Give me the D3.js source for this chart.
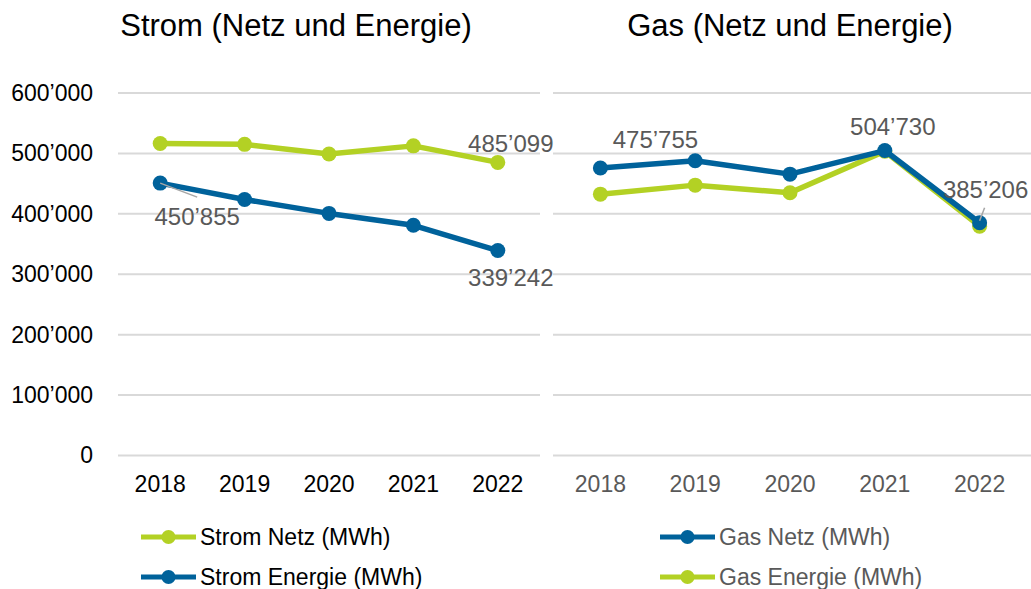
<!DOCTYPE html>
<html><head><meta charset="utf-8">
<script src="https://cdn.jsdelivr.net/npm/d3@7"></script>
<style>body{margin:0;background:#fff}svg{display:block;font-family:"Liberation Sans",Arial,sans-serif}</style>
</head><body><svg id="c" width="1031" height="589"></svg>
<script>
const years = ["2018","2019","2020","2021","2022"];
const stromNetz = [516500, 515000, 499000, 512500, 485099];
const stromEnergie = [450855, 423800, 400700, 381000, 339242];
const gasNetz = [475755, 487800, 465700, 504730, 385206];
const gasEnergie = [432600, 447500, 434800, 503500, 379600];
const yTicks = [0, 100000, 200000, 300000, 400000, 500000, 600000];
const titles = ["Strom (Netz und Energie)", "Gas (Netz und Energie)"];
const legendLabels = ["Strom Netz (MWh)", "Strom Energie (MWh)", "Gas Netz (MWh)", "Gas Energie (MWh)"];

const GREEN = "#b3d124", BLUE = "#00629b", GRID = "#d9d9d9", LABEL = "#595959";
const fmt = v => d3.format(",")(v).replace(/,/g, "\u2019");

const svg = d3.select("#c");
const y = d3.scaleLinear().domain([0, 600000]).range([455.5, 93]);

const panels = [
  {x: d3.scaleBand().domain(years).range([118, 540]), gridEnd: 540, title: titles[0], titleX: 296, tickColor: "#000",
   series: [{v: stromNetz, c: GREEN}, {v: stromEnergie, c: BLUE}]},
  {x: d3.scaleBand().domain(years).range([553, 1027]), gridEnd: 1031, title: titles[1], titleX: 790, tickColor: LABEL,
   series: [{v: gasEnergie, c: GREEN}, {v: gasNetz, c: BLUE}]}
];

// y axis labels (left panel only)
const yAxis = d3.axisLeft(y).tickValues(yTicks).tickFormat(fmt).tickSize(0).tickPadding(0);
const ya = svg.append("g").attr("transform", "translate(93,0)").call(yAxis);
ya.select(".domain").remove();
ya.selectAll("text").attr("font-size", 23).attr("fill", "#000").attr("font-family", "Liberation Sans, Arial, sans-serif");

panels.forEach((p, i) => {
  const g = svg.append("g");
  const xr = p.x.range();
  g.selectAll("line.grid").data(yTicks).join("line")
    .attr("x1", xr[0]).attr("x2", p.gridEnd)
    .attr("y1", d => y(d)).attr("y2", d => y(d))
    .attr("stroke", GRID).attr("stroke-width", 2);
  const cx = d => p.x(d) + p.x.bandwidth() / 2;
  const xa = d3.axisBottom(p.x).tickSize(0).tickPadding(0);
  const xg = g.append("g").attr("transform", "translate(0,476)").call(xa);
  xg.select(".domain").remove();
  xg.selectAll("text").attr("font-size", 23).attr("fill", p.tickColor)
    .attr("font-family", "Liberation Sans, Arial, sans-serif").attr("dy", "0.71em");
  g.append("text").attr("x", p.titleX).attr("y", 36)
    .attr("text-anchor", "middle").attr("font-size", 31).attr("fill", "#000").text(p.title);
  p.series.forEach(s => {
    const pts = years.map((yr, k) => [cx(yr), y(s.v[k])]);
    g.append("path").attr("d", d3.line()(pts)).attr("fill", "none")
      .attr("stroke", s.c).attr("stroke-width", 5.5).attr("stroke-linejoin", "round");
    g.selectAll(null).data(pts).join("circle")
      .attr("cx", d => d[0]).attr("cy", d => d[1]).attr("r", 7.5).attr("fill", s.c);
  });
});

// data labels
const L = panels[0].x, R = panels[1].x;
const c = (sc, yr) => sc(yr) + sc.bandwidth() / 2;
const labels = [
  {x: c(L, "2018") + 37, y: y(stromEnergie[0]) + 42, v: stromEnergie[0], leader: [[c(L, "2018"), y(stromEnergie[0])], [c(L, "2018") + 37, y(stromEnergie[0]) + 14]]},
  {x: c(L, "2022") + 13, y: y(stromNetz[4]) - 10, v: stromNetz[4]},
  {x: c(L, "2022") + 13, y: y(stromEnergie[4]) + 35, v: stromEnergie[4]},
  {x: c(R, "2018") + 55, y: y(gasNetz[0]) - 20, v: gasNetz[0]},
  {x: c(R, "2021") + 8, y: y(gasNetz[3]) - 16, v: gasNetz[3]},
  {x: c(R, "2022") + 6, y: y(gasNetz[4]) - 25, v: gasNetz[4], leader: [[c(R, "2022"), y(gasNetz[4]) - 2], [c(R, "2022") + 5, y(gasNetz[4]) - 15]]}
];
labels.forEach(l => {
  if (l.leader) svg.append("line").attr("x1", l.leader[0][0]).attr("y1", l.leader[0][1])
    .attr("x2", l.leader[1][0]).attr("y2", l.leader[1][1]).attr("stroke", "#a6a6a6").attr("stroke-width", 1.5);
  svg.append("text").attr("x", l.x).attr("y", l.y).attr("text-anchor", "middle")
    .attr("font-size", 24).attr("fill", LABEL).text(fmt(l.v));
});

// legend
const legend = [
  {t: legendLabels[0], c: GREEN, x: 141, y: 537, tc: "#000"},
  {t: legendLabels[1], c: BLUE, x: 141, y: 577, tc: "#000"},
  {t: legendLabels[2], c: BLUE, x: 660, y: 537, tc: LABEL},
  {t: legendLabels[3], c: GREEN, x: 660, y: 577, tc: LABEL}
];
legend.forEach(l => {
  const g = svg.append("g").attr("transform", `translate(${l.x},${l.y})`);
  g.append("line").attr("x1", 0).attr("x2", 55).attr("stroke", l.c).attr("stroke-width", 5);
  g.append("circle").attr("cx", 27.5).attr("r", 7).attr("fill", l.c);
  g.append("text").attr("x", 59).attr("dy", "0.35em").attr("font-size", 23).attr("fill", l.tc).text(l.t);
});
</script></body></html>
